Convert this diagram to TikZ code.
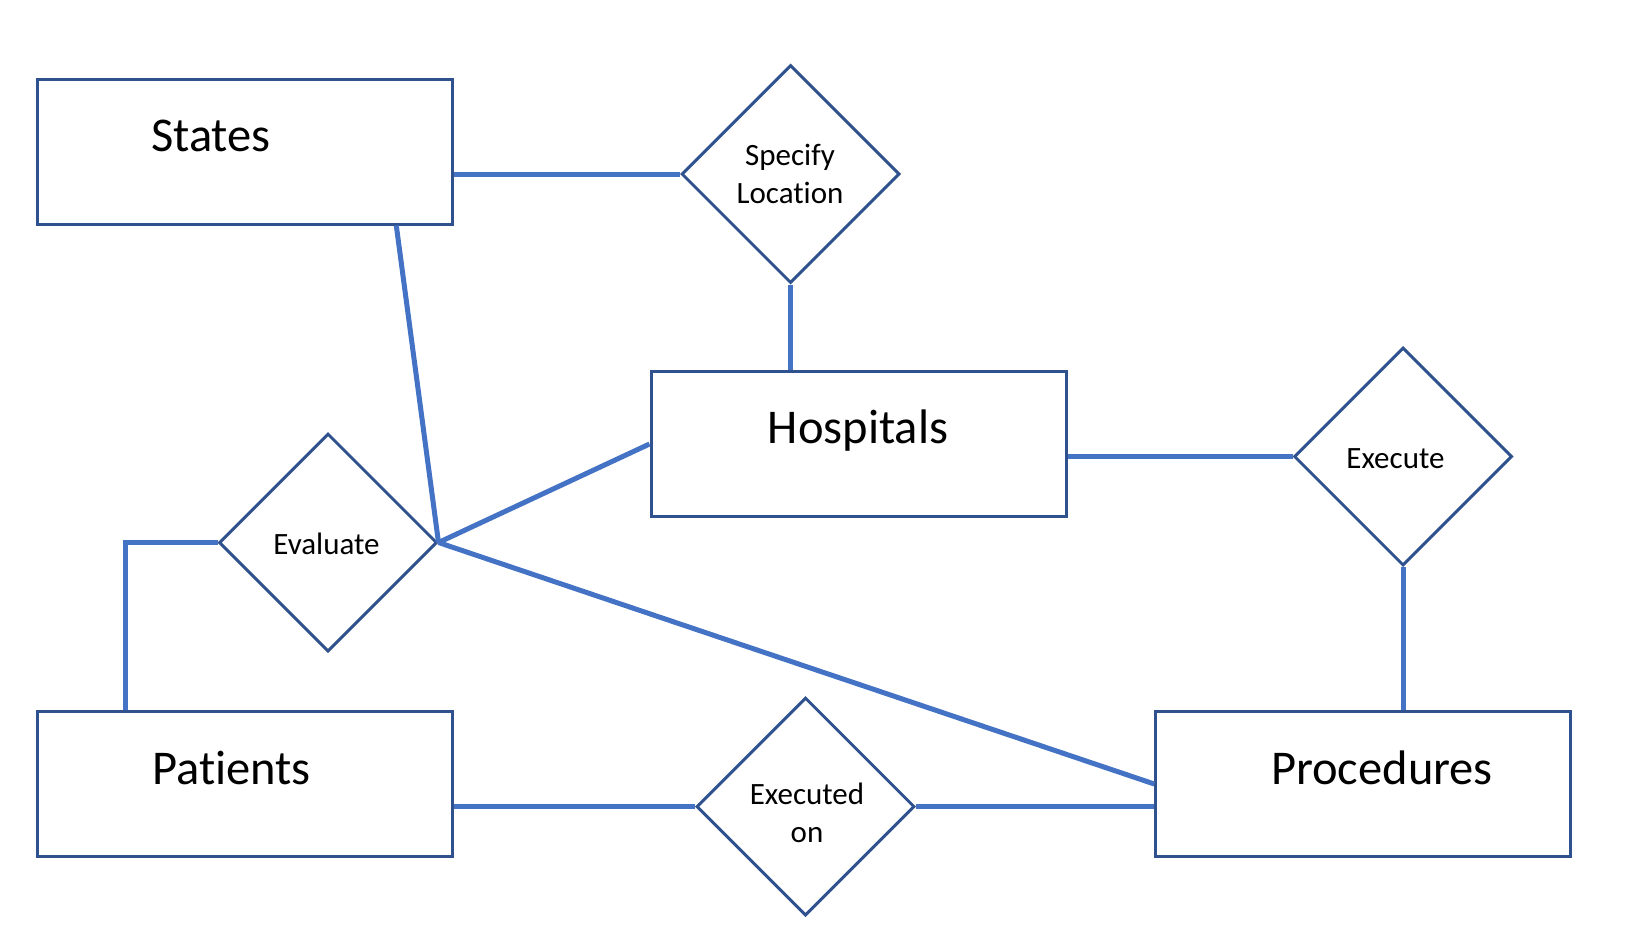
\documentclass[tikz,border=0pt]{standalone}
\usepackage{fontspec}
\setmainfont{Carlito}[Ligatures=NoCommon]
\usetikzlibrary{shapes.geometric,calc}
\definecolor{boxblue}{HTML}{2F528F}
\definecolor{linkblue}{HTML}{4472C4}
\begin{document}
\begin{tikzpicture}[x=1pt,y=-1pt,
  entity/.style={draw=boxblue,line width=3pt,rectangle,minimum width=415pt,minimum height=145pt,inner sep=0pt,fill=white},
  rel/.style={draw=boxblue,line width=3pt,diamond,aspect=1,minimum width=218pt,minimum height=218pt,inner sep=0pt,fill=white},
  etext/.style={anchor=base,inner sep=0pt,font=\fontsize{48.5}{58}\selectfont},
  rtext/.style={anchor=base,inner sep=0pt,align=center,font=\fontsize{31}{37.7}\selectfont},
  link/.style={draw=linkblue,line width=5pt}]
\useasboundingbox (0,0) rectangle (1628,930);
% entities
\node[entity] (states) at (245,151.5) {};
\node[entity] (hosp) at (858.5,444) {};
\node[entity] (pat) at (245,784) {};
\node[entity] (proc) at (1363.3,784) {};
% relationships
\node[rel] (spec) at (790.5,174) {};
\node[rel] (exec) at (1403,456.5) {};
\node[rel] (eval) at (328,542.5) {};
\node[rel] (exon) at (805.5,806.5) {};
% connectors
\coordinate (sbot) at ($(states.south west)+(360.3,0)$);
\coordinate (ptop) at ($(pat.north west)+(89.3,0)$);
\coordinate (elbow) at (ptop |- eval.west);
\draw[link] (states.east |- spec.west) -- (spec.west);
\draw[link] (spec.south) -- (spec.south |- hosp.north);
\draw[link] (sbot) -- (eval.east);
\draw[link] (hosp.west) -- (eval.east);
\draw[link] (eval.east) -- (proc.west);
\draw[link] (eval.west) -- (elbow) -- (ptop);
\draw[link] (hosp.east |- exec.west) -- (exec.west);
\draw[link] (exec.south) -- (exec.south |- proc.north);
\draw[link] (pat.east |- exon.west) -- (exon.west);
\draw[link] (exon.east) -- (exon.east -| proc.west);
% texts
\node[etext] (tstates) at (211,151.6) {States};
\node[etext] (thosp) at (858,443) {Hospitals};
\node[etext] (tpat) at (231.5,784) {Patients};
\node[etext] (tproc) at (1382,784) {Procedures};
\node[rtext] (tspec) at (790,203.5) {Specify\\Location};
\node[rtext] (texec) at (1395.5,468) {Execute};
\node[rtext] (teval) at (326.5,554) {Evaluate};
\node[rtext] (texon) at (807,842) {Executed\\on};
\end{tikzpicture}
\end{document}
